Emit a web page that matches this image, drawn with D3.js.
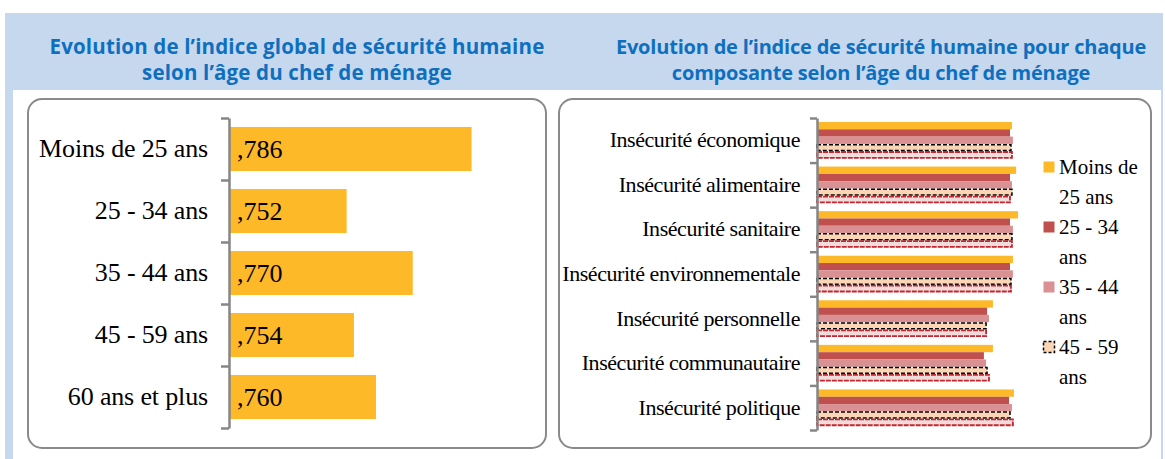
<html lang="fr">
  <head>
    <meta charset="utf-8">
    <title>Sécurité humaine selon l'âge du chef de ménage</title>
    <script src="https://d3js.org/d3.v7.min.js"></script>
    <style>
      body { margin: 0; background: white; }
      .cat text { font-family: "Liberation Serif", "Times New Roman", serif; fill: black; }
      .title { font-family: "Open Sans", sans-serif; font-weight: bold; fill: #0F6FBF; }
    </style>
  </head>

  <body>
  <script>

  var w = 1165;
  var h = 459;

  // left chart data
  var ages = ["Moins de 25 ans", "25 - 34 ans", "35 - 44 ans", "45 - 59 ans", "60 ans et plus"];
  var globalIndex = [0.786, 0.752, 0.770, 0.754, 0.760];

  // right chart data
  var components = ["Insécurité économique", "Insécurité alimentaire", "Insécurité sanitaire",
    "Insécurité environnementale", "Insécurité personnelle", "Insécurité communautaire",
    "Insécurité politique"];
  var moins25 = [0.799, 0.816, 0.824, 0.803, 0.721, 0.721, 0.807];
  var age2534 = [0.791, 0.791, 0.791, 0.791, 0.697, 0.684, 0.787];
  var age3544 = [0.803, 0.799, 0.803, 0.803, 0.705, 0.693, 0.799];
  var age4559 = [0.795, 0.799, 0.799, 0.795, 0.693, 0.697, 0.791];
  var age60 = [0.799, 0.791, 0.799, 0.795, 0.693, 0.705, 0.803];
  var series = [moins25, age2534, age3544, age4559, age60];

  var colors = ["#FDB928", "#C0504D", "#D99194", "#FCD5B4", "#F2DCDB"];
  var strokes = ["none", "none", "none", "#000000", "#C3262E"];
  var dashes = [null, null, null, "4,2", "5,1"];

  var svg = d3.select("body")
    .append("svg")
      .attr("width", w)
      .attr("height", h);

  // background frame
  svg.append("rect")
    .attr("x", 5).attr("y", 13)
    .attr("width", 1158).attr("height", h - 13)
    .attr("fill", "#C6D8EE");

  svg.append("rect")
    .attr("x", 13).attr("y", 90)
    .attr("width", 1148).attr("height", h - 90)
    .attr("fill", "white");

  // titles
  var titles = [
    {x: 297, size: "20.5px", ls: "0.15", lines: ["Evolution de l’indice global de sécurité humaine", "selon l’âge du chef de ménage"]},
    {x: 881, size: "20px", ls: "-0.2", lines: ["Evolution de l’indice de sécurité humaine pour chaque", "composante selon l’âge du chef de ménage"]}
  ];
  titles.forEach(function(t) {
    svg.append("text")
      .attr("class", "title")
      .attr("text-anchor", "middle")
      .style("font-size", t.size)
      .attr("letter-spacing", t.ls)
      .selectAll("tspan")
      .data(t.lines)
      .enter().append("tspan")
        .attr("x", t.x)
        .attr("y", (d, i) => 54 + i * 26)
        .text(d => d);
  });

  // panels
  svg.append("rect")
    .attr("x", 28).attr("y", 99)
    .attr("width", 518).attr("height", 349)
    .attr("rx", 14)
    .attr("fill", "white")
    .attr("stroke", "#8A8A8A")
    .attr("stroke-width", 2);

  svg.append("rect")
    .attr("x", 559).attr("y", 99)
    .attr("width", 592).attr("height", 349)
    .attr("rx", 14)
    .attr("fill", "white")
    .attr("stroke", "#8A8A8A")
    .attr("stroke-width", 2);

  // ---------- left chart ----------
  var xL = d3.scaleLinear()
      .domain([0.72, 0.80])
      .range([229, 523]);

  var yL = d3.scaleBand()
      .domain(ages)
      .range([118, 428])
      .paddingInner(0.29)
      .paddingOuter(0.145);

  svg.append("g")
      .selectAll("rect")
      .data(ages)
      .enter().append("rect")
        .attr("x", xL(0.72))
        .attr("y", d => yL(d))
        .attr("width", (d, i) => xL(globalIndex[i]) - xL(0.72))
        .attr("height", yL.bandwidth())
        .attr("fill", colors[0]);

  // values written the French way: ,786
  var fmt = d3.format(".3f");
  svg.append("g")
      .selectAll("text")
      .data(ages)
      .enter().append("text")
        .attr("x", xL(0.72) + 8)
        .attr("y", d => yL(d) + yL.bandwidth() / 2)
        .attr("dy", "0.35em")
        .style("font-family", "'Liberation Serif', serif")
        .style("font-size", "26px")
        .text((d, i) => fmt(globalIndex[i]).replace(/^0\./, ","));

  // axis with ticks between categories
  var edgeL = d3.scaleLinear().domain([0, ages.length]).range(yL.range());
  svg.append("g")
      .attr("transform", `translate (${xL(0.72)}, 0)`)
      .call(d3.axisLeft(edgeL).tickValues(d3.range(ages.length + 1)).tickSize(8).tickSizeOuter(0).tickFormat(""))
      .call(g => g.selectAll("line, path").attr("stroke", "#868686").attr("stroke-width", 2.5));

  svg.append("g")
      .attr("class", "cat")
      .attr("transform", `translate (${xL(0.72) - 21}, 0)`)
      .call(d3.axisLeft(yL).tickSize(0).tickPadding(0))
      .call(g => g.select(".domain").remove())
      .call(g => g.selectAll("text").style("font-size", "26px").attr("letter-spacing", "-0.15"));

  // ---------- right chart ----------
  var xR = d3.scaleLinear()
      .domain([0, 1])
      .range([817, 1061]);

  var yR = d3.scaleBand()
      .domain(components)
      .range([118, 430])
      .paddingInner(0.18)
      .paddingOuter(0.09);

  var ySub = d3.scaleBand()
      .domain(d3.range(series.length))
      .range([0, yR.bandwidth()]);

  var groups = svg.append("g")
      .selectAll("g")
      .data(components)
      .enter().append("g")
        .attr("transform", d => `translate (0, ${yR(d)})`);

  groups.selectAll("rect")
      .data((d, i) => series.map((s, k) => ({k: k, v: s[i]})))
      .enter().append("rect")
        .attr("x", xR(0))
        .attr("y", d => ySub(d.k) + (d.k >= 3 ? 0.75 : 0))
        .attr("width", d => xR(d.v) - xR(0))
        .attr("height", d => ySub.bandwidth() - (d.k >= 3 ? 1.5 : 0))
        .attr("fill", d => colors[d.k])
        .attr("stroke", d => strokes[d.k])
        .attr("stroke-width", d => d.k == 4 ? 1.8 : 1.5)
        .attr("stroke-dasharray", d => dashes[d.k]);

  var edgeR = d3.scaleLinear().domain([0, components.length]).range(yR.range());
  svg.append("g")
      .attr("transform", `translate (${xR(0)}, 0)`)
      .call(d3.axisLeft(edgeR).tickValues(d3.range(components.length + 1)).tickSize(7).tickSizeOuter(0).tickFormat(""))
      .call(g => g.selectAll("line, path").attr("stroke", "#868686").attr("stroke-width", 2.5));

  svg.append("g")
      .attr("class", "cat")
      .attr("transform", `translate (${xR(0) - 17}, 0)`)
      .call(d3.axisLeft(yR).tickSize(0).tickPadding(0))
      .call(g => g.select(".domain").remove())
      .call(g => g.selectAll("text").style("font-size", "22px").attr("letter-spacing", "-0.45"));

  // legend (the last series does not fit in the box)
  var legendNames = ages.slice(0, 4);
  var legend = svg.append("g")
      .selectAll("g")
      .data(legendNames)
      .enter().append("g")
        .attr("transform", (d, i) => `translate (1043, ${167 + i * 60})`);

  legend.append("rect")
      .attr("x", 0.5).attr("y", -5.5)
      .attr("width", 11).attr("height", 11)
      .attr("fill", (d, i) => colors[i])
      .attr("stroke", (d, i) => strokes[i])
      .attr("stroke-width", 1.5)
      .attr("stroke-dasharray", (d, i) => dashes[i] ? "3,2" : null);

  legend.append("text")
      .attr("x", 16)
      .style("font-family", "'Liberation Serif', serif")
      .style("font-size", "21px")
      .each(function(d) {
        // wrap the label on two lines
        var t = d3.select(this);
        var words = d.split(" ");
        var line = [];
        var lines = [];
        var probe = t.append("tspan");
        words.forEach(function(word) {
          probe.text(line.concat(word).join(" "));
          if (probe.node().getComputedTextLength() > 90 && line.length) {
            lines.push(line.join(" "));
            line = [word];
          } else {
            line.push(word);
          }
        });
        lines.push(line.join(" "));
        probe.remove();
        t.selectAll("tspan")
          .data(lines)
          .enter().append("tspan")
            .attr("x", 16)
            .attr("y", (l, i) => i * 30)
            .attr("dy", "0.35em")
            .text(l => l);
      });

  </script>
  </body>
</html>
